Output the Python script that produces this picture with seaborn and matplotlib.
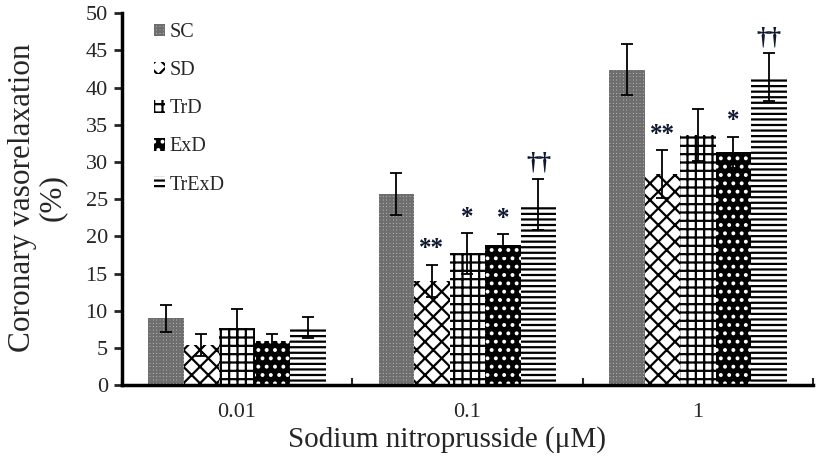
import pandas as pd
import seaborn as sns
import matplotlib.pyplot as plt

# Data
concentrations = ['0.01', '0.1', '1']
groups = ['SC', 'SD', 'TrD', 'ExD', 'TrExD']
sc = [9.0, 25.7, 42.4]
sd = [5.4, 14.0, 28.4]
trd = [7.7, 17.7, 33.6]
exd = [6.0, 18.8, 31.3]
trexd = [7.7, 24.3, 41.4]
sc_err = [1.8, 2.8, 3.4]
sd_err = [1.5, 2.2, 3.2]
trd_err = [2.5, 2.7, 3.5]
exd_err = [0.9, 1.5, 2.1]
trexd_err = [1.4, 3.4, 3.2]
# significance marks: (concentration, group) -> symbol
sig_marks = {('0.1', 'SD'): '**', ('0.1', 'TrD'): '*', ('0.1', 'ExD'): '*',
             ('0.1', 'TrExD'): '\u2020\u2020',
             ('1', 'SD'): '**', ('1', 'ExD'): '*', ('1', 'TrExD'): '\u2020\u2020'}

values = [sc, sd, trd, exd, trexd]
errors = [sc_err, sd_err, trd_err, exd_err, trexd_err]
df = pd.DataFrame({
    'conc': [c for _ in groups for c in concentrations],
    'group': [g for g in groups for _ in concentrations],
    'value': [v for vals in values for v in vals],
})

sns.set_style('white')
plt.rcParams['font.family'] = ['Liberation Serif', 'DejaVu Serif']
plt.rcParams['hatch.linewidth'] = 1.6

fig = plt.figure(figsize=(8.28, 4.68), dpi=100)
ax = fig.add_axes([0.147, 0.177, 0.835, 0.795])

sns.barplot(data=df, x='conc', y='value', hue='group', order=concentrations,
            hue_order=groups, width=0.77, errorbar=None, ax=ax,
            palette=['white'] * 5, legend=False)

# hatch styles: (facecolor, hatch colour, hatch)
styles = [('#bdbdbd', '#6e6e6e', '+++++'),
          ('white', 'black', 'xx'),
          ('white', 'black', '++'),
          ('black', 'white', '..'),
          ('white', 'black', '---')]

for cont, (fc, hc, h), errs, g in zip(ax.containers, styles, errors, groups):
    xs, ys = [], []
    for patch, c in zip(cont.patches, concentrations):
        patch.set_facecolor(fc)
        patch.set_edgecolor(hc)
        patch.set_hatch(h)
        patch.set_linewidth(0)
        xs.append(patch.get_x() + patch.get_width() / 2)
        ys.append(patch.get_height())
    ax.errorbar(xs, ys, yerr=errs, fmt='none', ecolor='black',
                elinewidth=1.3, capsize=4.5, capthick=1.3, zorder=3)
    for x, y, e, c in zip(xs, ys, errs, concentrations):
        mark = sig_marks.get((c, g))
        if mark:
            ax.annotate(mark, (x, y + e), xytext=(0, 3), textcoords='offset points',
                        ha='center', va='bottom', fontsize=18, fontweight='bold',
                        color='#101830')

ax.legend(ax.containers, groups, loc='upper left', bbox_to_anchor=(0.02, 1.022),
          frameon=False, fontsize=14.5, handlelength=0.55, handleheight=0.6,
          handletextpad=0.25, labelspacing=0.95)

ax.set_xlim(-0.5, 2.5)
ax.set_ylim(0, 50)
ax.set_yticks(range(0, 51, 5))
ax.set_xticks([-0.5, 0.5, 1.5, 2.5], minor=True)
ax.tick_params(axis='y', which='major', left=True, direction='out', length=6,
               width=2, labelsize=16, pad=4)
ax.tick_params(axis='x', which='major', bottom=False, labelsize=16, pad=9)
ax.tick_params(axis='x', which='minor', bottom=True, direction='in', length=5, width=1.5)

for side in ['top', 'right']:
    ax.spines[side].set_visible(False)
for side in ['left', 'bottom']:
    ax.spines[side].set_linewidth(2.5)
    ax.spines[side].set_color('black')

ax.set_xlabel('Sodium nitroprusside (\u03bcM)', fontsize=21)
ax.xaxis.set_label_coords(0.47, -0.11)
ax.set_ylabel('Coronary vasorelaxation\n(%)', fontsize=22.5, linespacing=1.0)
ax.yaxis.set_label_coords(-0.08, 0.505)

fig.savefig('out.png', dpi=100)
